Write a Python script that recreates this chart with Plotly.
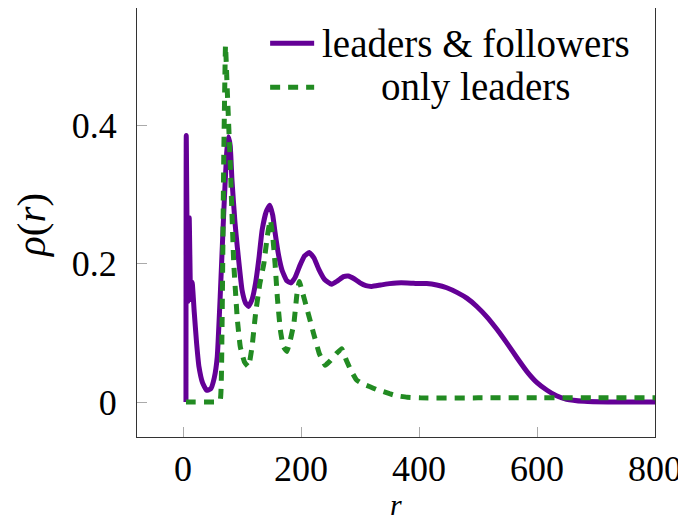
import plotly.graph_objects as go

# ---- data ----
r_lf = [5, 5.5, 8, 10.5, 13, 15.5, 19, 23, 27, 33, 40, 47, 53, 58, 63, 69, 74, 77, 80, 83,
        88, 92, 100, 106, 111, 117, 123, 129, 134, 141, 147, 152, 156, 162, 168, 176, 183,
        190, 198, 206, 214, 222, 230, 240, 252, 262, 272, 280, 290, 300, 310, 320, 335,
        350, 362, 380, 400, 413, 430, 447, 465, 481, 498, 515, 532, 549, 566, 583, 600,
        617, 633, 650, 680, 720, 760, 800]
rho_lf = [0, 0.385, 0.145, 0.266, 0.148, 0.173, 0.13, 0.085, 0.051, 0.028, 0.017, 0.019,
          0.035, 0.065, 0.152, 0.273, 0.36, 0.383, 0.37, 0.32, 0.26, 0.224, 0.162, 0.143,
          0.138, 0.148, 0.172, 0.21, 0.248, 0.275, 0.284, 0.27, 0.245, 0.212, 0.19, 0.175,
          0.172, 0.18, 0.197, 0.211, 0.216, 0.208, 0.192, 0.177, 0.17, 0.175, 0.181, 0.182,
          0.178, 0.172, 0.168, 0.167, 0.169, 0.171, 0.172, 0.172, 0.171, 0.171, 0.169,
          0.165, 0.158, 0.15, 0.138, 0.123, 0.105, 0.085, 0.064, 0.044, 0.028, 0.017,
          0.009, 0.004, 0.001, 0, 0, 0]

r_l = [5, 20, 40, 55, 63, 66, 69, 72, 75, 80, 86, 92, 97, 104, 111, 117, 123, 130, 137,
       143, 148, 152, 156, 160, 165, 170, 176, 182, 188, 193, 197, 202, 210, 221, 231,
       241, 250, 260, 269, 277, 285, 294, 305, 317, 328, 340, 350, 362, 380, 402, 500,
       600, 700, 800]
rho_l = [0, 0, 0, 0, 0.003, 0.1, 0.35, 0.515, 0.45, 0.345, 0.2, 0.12, 0.08, 0.058, 0.051,
         0.08, 0.128, 0.17, 0.2, 0.24, 0.263, 0.24, 0.2, 0.15, 0.104, 0.08, 0.073, 0.09,
         0.114, 0.155, 0.174, 0.16, 0.135, 0.1, 0.07, 0.053, 0.06, 0.07, 0.077, 0.06,
         0.045, 0.032, 0.026, 0.022, 0.018, 0.015, 0.012, 0.009, 0.007, 0.006, 0.006,
         0.006, 0.006, 0.006]

labels = ["leaders &amp; followers", "only leaders"]
x_title = "<i>r</i>"
y_title = "<i>ρ</i>(<i>r</i>)"
x_ticks = [0, 200, 400, 600, 800]
y_ticks = [0, 0.2, 0.4]
y_ticktext = ["0", "0.2", "0.4"]

PURPLE = "#640096"
GREEN = "#228b22"
FONT = "Liberation Serif"

fig = go.Figure()
fig.add_trace(go.Scatter(x=r_lf, y=rho_lf, mode="lines", name=labels[0],
                         line=dict(color=PURPLE, width=5, shape="spline", smoothing=0.4),
                         showlegend=False))
fig.add_trace(go.Scatter(x=r_l, y=rho_l, mode="lines", name=labels[1],
                         line=dict(color=GREEN, width=5, dash="10px,8px",
                                   shape="spline", smoothing=0.3),
                         showlegend=False))

# custom legend (centered text like the reference)
leg = [(labels[0], PURPLE, "solid", 0.918), (labels[1], GREEN, "10px,8px", 0.815)]
for txt, col, dsh, yy in leg:
    fig.add_shape(type="line", xref="paper", yref="paper", x0=0.257, x1=0.342, y0=yy, y1=yy,
                  line=dict(color=col, width=5, dash=dsh))
    fig.add_annotation(xref="paper", yref="paper", x=0.655, y=yy, text=txt, showarrow=False,
                       xanchor="center", yanchor="middle",
                       font=dict(family=FONT, size=39, color="black"))

# axis titles as annotations for precise placement
fig.add_annotation(xref="paper", yref="paper", x=0.5, y=-0.157, text=x_title,
                   showarrow=False, xanchor="center", yanchor="middle",
                   font=dict(family=FONT, size=30, color="black"))
fig.add_annotation(xref="paper", yref="paper", x=-0.205, y=0.494, text=y_title,
                   showarrow=False, xanchor="center", yanchor="middle", textangle=-90,
                   font=dict(family=FONT, size=41, color="black"))

axis_common = dict(showgrid=False, zeroline=False, showline=True, linecolor="#333",
                   linewidth=1, mirror=True, ticks="inside", ticklen=10, tickwidth=1,
                   tickcolor="#aaa", tickfont=dict(family=FONT, size=36, color="black"))

fig.update_xaxes(range=[-78, 800], tickvals=x_ticks, ticklabelstandoff=0, **axis_common)
fig.update_yaxes(range=[-0.0505, 0.569], tickvals=y_ticks, ticktext=y_ticktext,
                 ticklabelstandoff=12, **axis_common)

fig.update_layout(width=678, height=513, autosize=False,
                  margin=dict(l=129, r=31, t=0, b=84),
                  paper_bgcolor="white", plot_bgcolor="white")

fig.write_html("out.html")
